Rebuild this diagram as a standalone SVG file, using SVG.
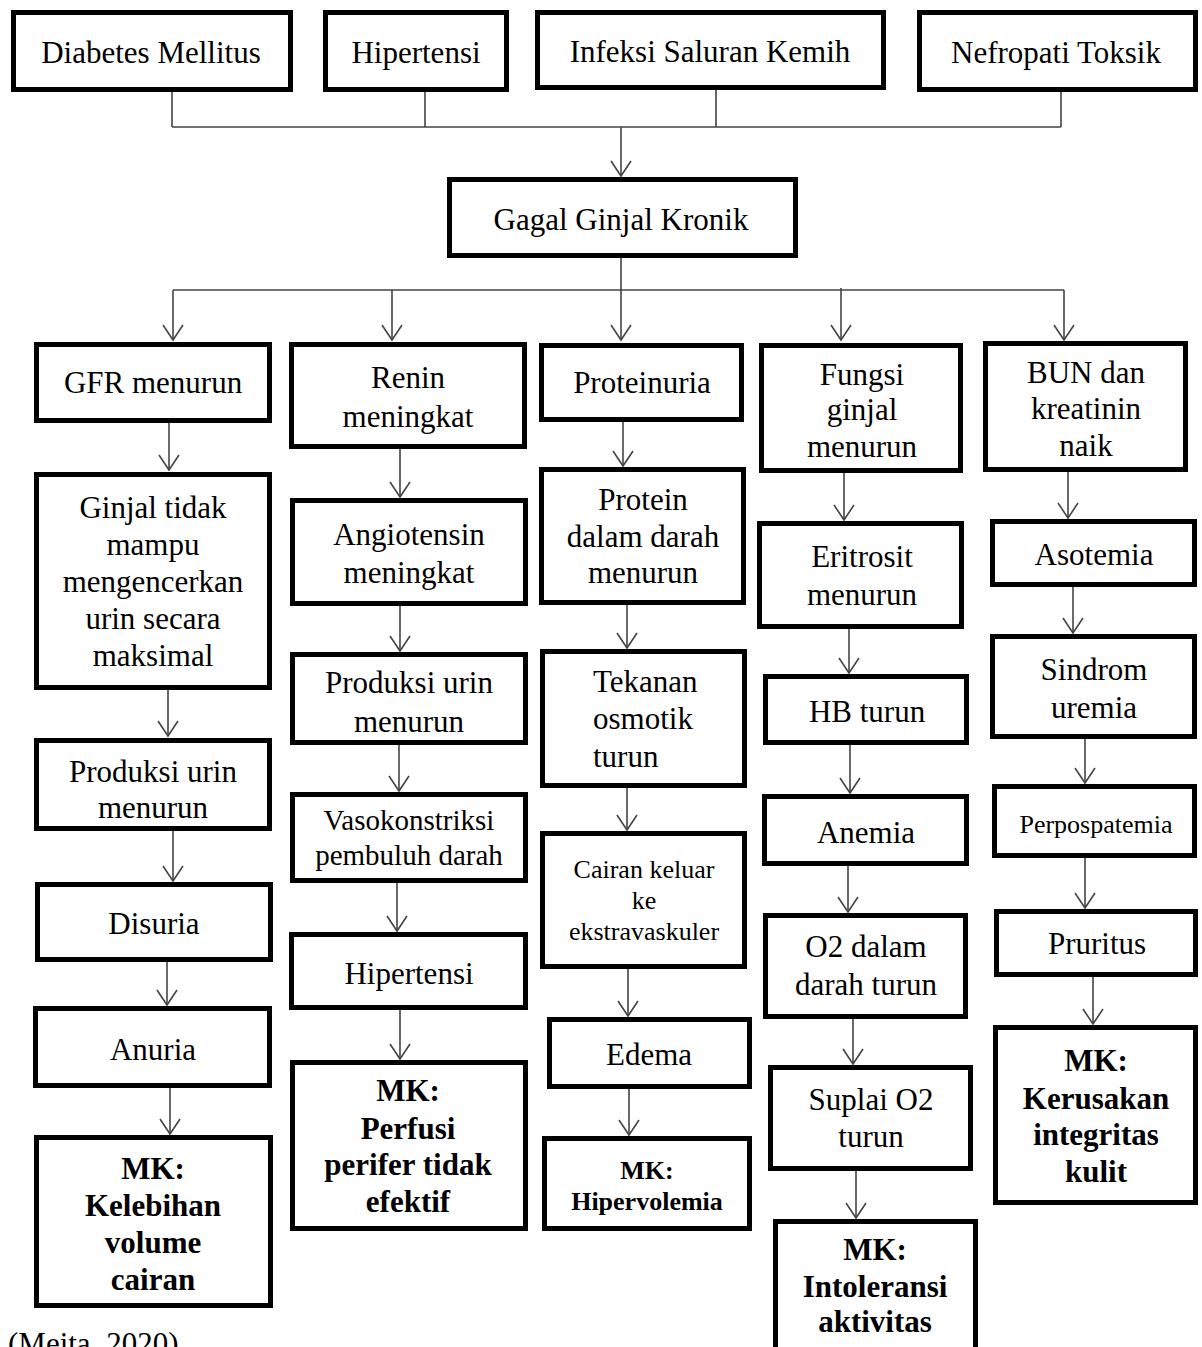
<svg xmlns="http://www.w3.org/2000/svg" width="1202" height="1347" viewBox="0 0 1202 1347">
<style>
.box{fill:#fff;stroke:#000;stroke-width:5}
.t{font-family:"Liberation Serif","Times New Roman",serif;font-size:31px;text-anchor:middle;fill:#000}
.b{font-weight:bold}
.s{font-size:26px}
.m{font-size:29px}
.c{fill:none;stroke:#444;stroke-width:1.6}
.a{fill:none;stroke:#444;stroke-width:1.6;marker-end:url(#ah)}
</style>
<defs>
<marker id="ah" markerUnits="userSpaceOnUse" viewBox="-17 -12 19 24" markerWidth="19" markerHeight="24" refX="0" refY="0" orient="auto">
<path d="M-15,-10 L0,0 L-15,10" fill="none" stroke="#444" stroke-width="1.6"/>
</marker>
</defs>
<rect width="1202" height="1347" fill="#fff"/>
<g id="connectors">
<path class="c" d="M172,92V127M425,92V127M716,90V127M1061,92V127M172,127H1061"/>
<path class="a" d="M621,127V176"/>
<path class="c" d="M621,258V290M173,290H1064"/>
<path class="a" d="M173,290V340"/>
<path class="a" d="M392,290V340"/>
<path class="a" d="M621,290V340"/>
<path class="a" d="M841,288V340"/>
<path class="a" d="M1064,290V340"/>
<path class="a" d="M169,423V470"/>
<path class="a" d="M168,690V736"/>
<path class="a" d="M173,831V881"/>
<path class="a" d="M167,962V1005"/>
<path class="a" d="M170,1088V1134"/>
<path class="a" d="M400,449V497"/>
<path class="a" d="M400,606V651"/>
<path class="a" d="M399,745V791"/>
<path class="a" d="M397,883V931"/>
<path class="a" d="M400,1010V1059"/>
<path class="a" d="M623,418V466"/>
<path class="a" d="M627,605V648"/>
<path class="a" d="M627,785V830"/>
<path class="a" d="M628,969V1016"/>
<path class="a" d="M629,1089V1135"/>
<path class="a" d="M844,473V520"/>
<path class="a" d="M849,629V673"/>
<path class="a" d="M850,745V793"/>
<path class="a" d="M848,866V912"/>
<path class="a" d="M853,1019V1064"/>
<path class="a" d="M856,1171V1218"/>
<path class="a" d="M1068,472V518"/>
<path class="a" d="M1073,587V633"/>
<path class="a" d="M1085,734V783"/>
<path class="a" d="M1085,858V908"/>
<path class="a" d="M1093,977V1024"/>
</g>
<g id="n_dm"><rect class="box" x="13.5" y="12.5" width="277" height="77"/><text class="t" x="151" y="63">Diabetes Mellitus</text></g>
<g id="n_ht"><rect class="box" x="325.5" y="12.5" width="181" height="77"/><text class="t" x="416" y="63">Hipertensi</text></g>
<g id="n_isk"><rect class="box" x="537.5" y="12.5" width="346" height="75"/><text class="t" x="710" y="62">Infeksi Saluran Kemih</text></g>
<g id="n_nt"><rect class="box" x="919.5" y="12.5" width="276" height="77"/><text class="t" x="1056" y="63">Nefropati Toksik</text></g>
<g id="n_ggk"><rect class="box" x="449.5" y="179.5" width="346" height="76"/><text class="t" x="621" y="230">Gagal Ginjal Kronik</text></g>

<g id="n_gfr"><rect class="box" x="36.5" y="344.5" width="233" height="76"/><text class="t" x="153" y="393">GFR menurun</text></g>
<g id="n_ginjal"><rect class="box" x="36.5" y="474.5" width="233" height="213"/><text class="t" x="153" y="518">Ginjal tidak</text><text class="t" x="153" y="555">mampu</text><text class="t" x="153" y="592">mengencerkan</text><text class="t" x="153" y="629">urin secara</text><text class="t" x="153" y="666">maksimal</text></g>
<g id="n_prod1"><rect class="box" x="36.5" y="740.5" width="233" height="88"/><text class="t" x="153" y="782">Produksi urin</text><text class="t" x="153" y="818">menurun</text></g>
<g id="n_disuria"><rect class="box" x="37.5" y="884.5" width="233" height="75"/><text class="t" x="154" y="934">Disuria</text></g>
<g id="n_anuria"><rect class="box" x="35.5" y="1008.5" width="234" height="77"/><text class="t" x="153" y="1060">Anuria</text></g>
<g id="n_mk1"><rect class="box" x="36.5" y="1137.5" width="234" height="168"/><text class="t b" x="153" y="1179">MK:</text><text class="t b" x="153" y="1216">Kelebihan</text><text class="t b" x="153" y="1253">volume</text><text class="t b" x="153" y="1290">cairan</text></g>

<g id="n_renin"><rect class="box" x="291.5" y="344.5" width="233" height="102"/><text class="t" x="408" y="388">Renin</text><text class="t" x="408" y="427">meningkat</text></g>
<g id="n_angio"><rect class="box" x="292.5" y="500.5" width="233" height="103"/><text class="t" x="409" y="545">Angiotensin</text><text class="t" x="409" y="583">meningkat</text></g>
<g id="n_prod2"><rect class="box" x="292.5" y="654.5" width="233" height="88"/><text class="t" x="409" y="693">Produksi urin</text><text class="t" x="409" y="732">menurun</text></g>
<g id="n_vaso"><rect class="box" x="292.5" y="794.5" width="233" height="86"/><text class="t m" x="409" y="830">Vasokonstriksi</text><text class="t m" x="409" y="865">pembuluh darah</text></g>
<g id="n_hip2"><rect class="box" x="291.5" y="934.5" width="234" height="73"/><text class="t" x="409" y="984">Hipertensi</text></g>
<g id="n_mk2"><rect class="box" x="292.5" y="1062.5" width="233" height="166"/><text class="t b" x="408" y="1101">MK:</text><text class="t b" x="408" y="1139">Perfusi</text><text class="t b" x="408" y="1175">perifer tidak</text><text class="t b" x="408" y="1212">efektif</text></g>

<g id="n_prot"><rect class="box" x="541.5" y="345.5" width="200" height="74"/><text class="t" x="642" y="393">Proteinuria</text></g>
<g id="n_protein"><rect class="box" x="541.5" y="469.5" width="202" height="133"/><text class="t" x="643" y="510">Protein</text><text class="t" x="643" y="547">dalam darah</text><text class="t" x="643" y="583">menurun</text></g>
<g id="n_tek"><rect class="box" x="542.5" y="651.5" width="202" height="134"/><text class="t" x="593" y="692" text-anchor="start" style="text-anchor:start">Tekanan</text><text class="t" x="593" y="729" style="text-anchor:start">osmotik</text><text class="t" x="593" y="767" style="text-anchor:start">turun</text></g>
<g id="n_cair"><rect class="box" x="542.5" y="833.5" width="202" height="133"/><text class="t s" x="644" y="878">Cairan keluar</text><text class="t s" x="644" y="909">ke</text><text class="t s" x="644" y="940">ekstravaskuler</text></g>
<g id="n_edema"><rect class="box" x="549.5" y="1019.5" width="200" height="67"/><text class="t" x="649" y="1065">Edema</text></g>
<g id="n_mk3"><rect class="box" x="544.5" y="1138.5" width="205" height="90"/><text class="t b s" x="647" y="1179">MK:</text><text class="t b s" x="647" y="1210">Hipervolemia</text></g>

<g id="n_fungsi"><rect class="box" x="761.5" y="345.5" width="199" height="125"/><text class="t" x="862" y="385">Fungsi</text><text class="t" x="862" y="420">ginjal</text><text class="t" x="862" y="457">menurun</text></g>
<g id="n_eri"><rect class="box" x="759.5" y="523.5" width="202" height="103"/><text class="t" x="862" y="567">Eritrosit</text><text class="t" x="862" y="605">menurun</text></g>
<g id="n_hb"><rect class="box" x="765.5" y="676.5" width="201" height="66"/><text class="t" x="867" y="722">HB turun</text></g>
<g id="n_anemia"><rect class="box" x="764.5" y="796.5" width="202" height="67"/><text class="t" x="866" y="843">Anemia</text></g>
<g id="n_o2"><rect class="box" x="765.5" y="915.5" width="200" height="101"/><text class="t" x="866" y="957">O2 dalam</text><text class="t" x="866" y="995">darah turun</text></g>
<g id="n_suplai"><rect class="box" x="770.5" y="1067.5" width="200" height="101"/><text class="t" x="871" y="1110">Suplai O2</text><text class="t" x="871" y="1147">turun</text></g>
<g id="n_mk4"><rect class="box" x="775.5" y="1221.5" width="200" height="150"/><text class="t b" x="875" y="1260">MK:</text><text class="t b" x="875" y="1297">Intoleransi</text><text class="t b" x="875" y="1332">aktivitas</text></g>

<g id="n_bun"><rect class="box" x="985.5" y="343.5" width="200" height="126"/><text class="t" x="1086" y="383">BUN dan</text><text class="t" x="1086" y="419">kreatinin</text><text class="t" x="1086" y="456">naik</text></g>
<g id="n_aso"><rect class="box" x="992.5" y="521.5" width="202" height="63"/><text class="t" x="1094" y="565">Asotemia</text></g>
<g id="n_sind"><rect class="box" x="992.5" y="636.5" width="202" height="100"/><text class="t" x="1094" y="680">Sindrom</text><text class="t" x="1094" y="718">uremia</text></g>
<g id="n_perpo"><rect class="box" x="994.5" y="786.5" width="200" height="69"/><text class="t s" x="1096" y="833">Perpospatemia</text></g>
<g id="n_prur"><rect class="box" x="996.5" y="911.5" width="199" height="63"/><text class="t" x="1097" y="954">Pruritus</text></g>
<g id="n_mk5"><rect class="box" x="995.5" y="1027.5" width="200" height="175"/><text class="t b" x="1096" y="1071">MK:</text><text class="t b" x="1096" y="1109">Kerusakan</text><text class="t b" x="1096" y="1145">integritas</text><text class="t b" x="1096" y="1182">kulit</text></g>

<text class="t" x="8" y="1354" style="text-anchor:start">(Meita, 2020)</text>
</svg>
